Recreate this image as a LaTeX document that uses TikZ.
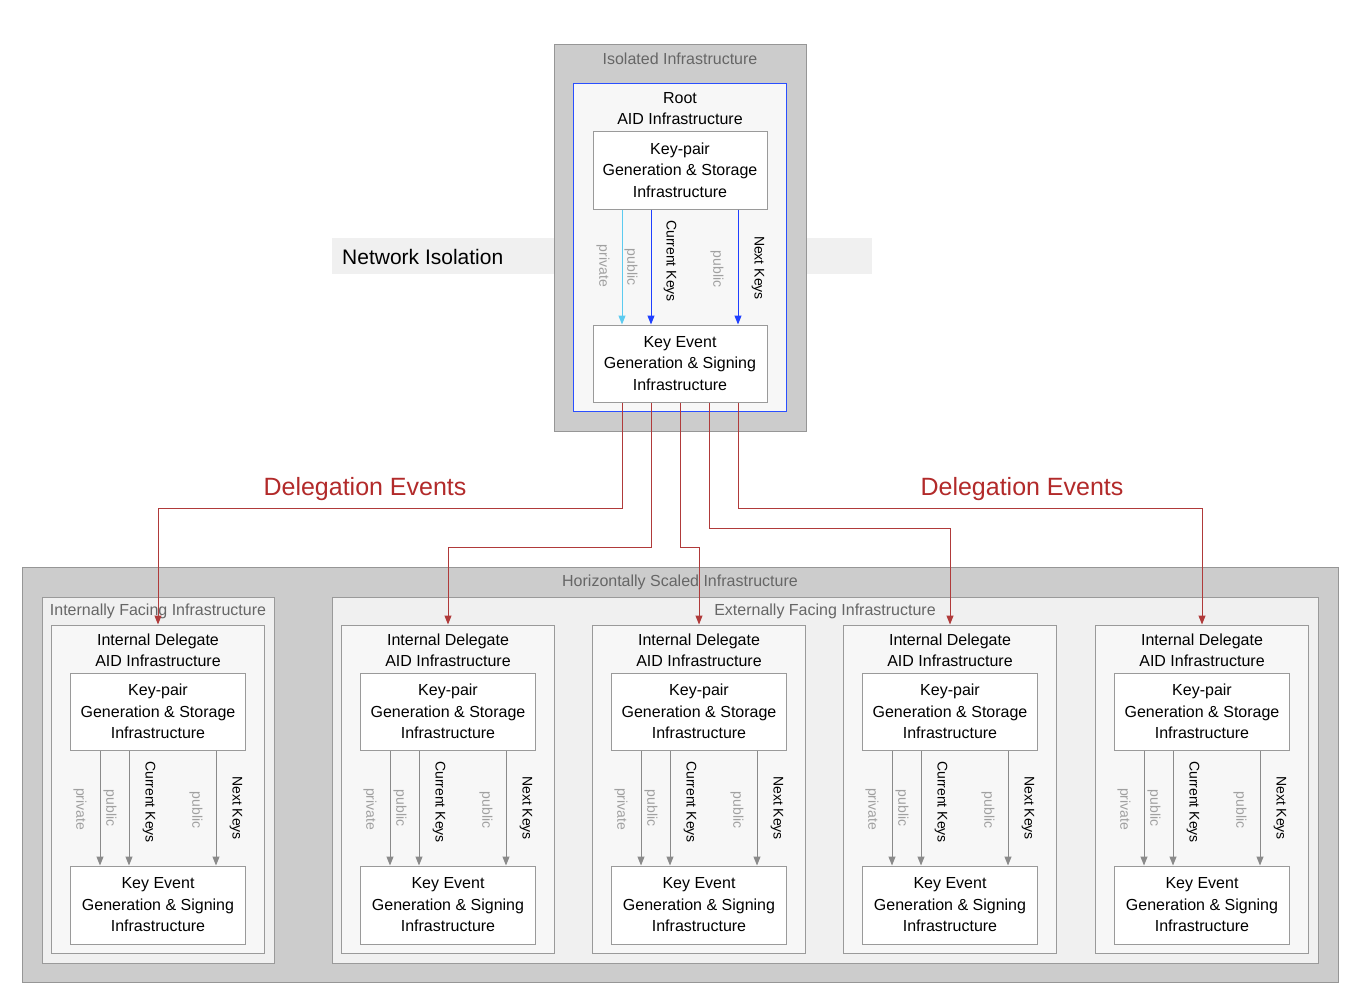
\documentclass[tikz,border=0pt]{standalone}
\usepackage{fontspec}
\setmainfont{Liberation Sans}
\usetikzlibrary{arrows.meta}
\definecolor{outerfill}{HTML}{CCCCCC}
\definecolor{outerdraw}{HTML}{969696}
\definecolor{midfill}{HTML}{F0F0F0}
\definecolor{innerfill}{HTML}{F7F7F7}
\definecolor{boxdraw}{HTML}{9A9A9A}
\definecolor{clustertxt}{HTML}{666666}
\definecolor{lighttxt}{HTML}{A0A0A0}
\definecolor{rootblue}{HTML}{2A4FFF}
\definecolor{keyblue}{HTML}{1F3FFF}
\definecolor{lightblue}{HTML}{5CCBF0}
\definecolor{delred}{HTML}{B22A2A}
\definecolor{linered}{HTML}{B03A3A}
\definecolor{arrowgray}{HTML}{8A8A8A}
\definecolor{bandfill}{HTML}{F0F0F0}
\tikzset{
  nfont/.style={font=\fontsize{16}{21.5}\selectfont},
  grpouter/.style={draw=outerdraw, fill=outerfill, line width=1pt, inner sep=0pt},
  grpmid/.style={draw=boxdraw, fill=midfill, line width=1pt, inner sep=0pt},
  dbox/.style={draw=boxdraw, fill=innerfill, line width=1pt, inner sep=0pt,
    minimum width=213pt, minimum height=328pt},
  kbox/.style={draw=boxdraw, fill=white, line width=1pt, inner sep=0pt, align=center,
    nfont, minimum width=175pt, minimum height=77pt},
  ttl/.style={inner sep=0pt, align=center, nfont},
  gttl/.style={inner sep=0pt, align=center, nfont, text=clustertxt},
  elab/.style={inner sep=0pt, rotate=-90, font=\fontsize{14}{16}\selectfont},
  keyarrow/.style={line width=1pt, -{Triangle[length=9pt,width=7pt]}},
  redarrow/.style={draw=linered, line width=1pt, -{Triangle[length=9pt,width=7pt]}},
  dlab/.style={inner sep=0pt, text=delred, font=\fontsize{25}{30}\selectfont},
}
\begin{document}
\begin{tikzpicture}[x=1pt,y=-1pt]
\useasboundingbox (0,0) rectangle (1370,1004);
% Network isolation band
\node[fill=bandfill, inner sep=0pt, minimum width=540pt, minimum height=36pt] (band) at (602,256) {};
\node[anchor=west, inner sep=0pt, font=\fontsize{21}{25}\selectfont] (bandtxt) at (342,257) {Network Isolation};
% Isolated infrastructure
\node[grpouter, minimum width=252pt, minimum height=387pt] (iso) at (680,237.5) {};
\node[gttl] (isot) at (680,59) {Isolated Infrastructure};
\node[draw=rootblue, fill=innerfill, line width=1pt, inner sep=0pt, minimum width=213pt, minimum height=328pt] (root) at (679.5,247) {};
\node[ttl] (roott) at (680,108.5) {Root\\AID Infrastructure};
\node[kbox, minimum width=174pt, minimum height=78pt] (rkp) at (680,170) {Key-pair\\Generation \& Storage\\Infrastructure};
\node[kbox, minimum width=174pt, minimum height=77pt] (rke) at (680,363.5) {Key Event\\Generation \& Signing\\Infrastructure};
\draw[keyarrow, draw=lightblue] ([xshift=-58pt]rkp.south) -- ([xshift=-58pt]rke.north);
\draw[keyarrow, draw=keyblue] ([xshift=-29pt]rkp.south) -- ([xshift=-29pt]rke.north);
\draw[keyarrow, draw=keyblue] ([xshift=58pt]rkp.south) -- ([xshift=58pt]rke.north);
\node[elab, text=lighttxt] (rpv) at (603,266) {private};
\node[elab, text=lighttxt] (rpb1) at (631,267) {public};
\node[elab] (rck) at (670,261) {Current Keys};
\node[elab, text=lighttxt] (rpb2) at (717,269) {public};
\node[elab] (rnk) at (758,268) {Next Keys};
% Horizontally scaled infrastructure
\node[grpouter, minimum width=1316pt, minimum height=415pt] (hs) at (680,774.5) {};
\node[gttl] (hst) at (680,582) {Horizontally Scaled Infrastructure};
\node[grpmid, minimum width=232pt, minimum height=366pt] (inf) at (158,780) {};
\node[gttl] (inft) at (158,611) {Internally Facing Infrastructure};
\node[grpmid, minimum width=986pt, minimum height=366pt] (exf) at (825,780) {};
\node[gttl] (exft) at (825,611) {Externally Facing Infrastructure};
\foreach \i/\cx in {1/158,2/448,3/699,4/950,5/1202} {
  \node[dbox] (d\i) at (\cx,789) {};
  \node[ttl] (dt\i) at (\cx,650.5) {Internal Delegate\\AID Infrastructure};
  \node[kbox] (kp\i) at (\cx,711.5) {Key-pair\\Generation \& Storage\\Infrastructure};
  \node[kbox, minimum height=78pt] (ke\i) at (\cx,905) {Key Event\\Generation \& Signing\\Infrastructure};
  \draw[keyarrow, draw=arrowgray] ([xshift=-58pt]kp\i.south) -- ([xshift=-58pt]ke\i.north);
  \draw[keyarrow, draw=arrowgray] ([xshift=-29pt]kp\i.south) -- ([xshift=-29pt]ke\i.north);
  \draw[keyarrow, draw=arrowgray] ([xshift=58pt]kp\i.south) -- ([xshift=58pt]ke\i.north);
  \node[elab, text=lighttxt] (pv\i) at (\cx-78,809) {private};
  \node[elab, text=lighttxt] (pba\i) at (\cx-48,808) {public};
  \node[elab] (ck\i) at (\cx-9,802) {Current Keys};
  \node[elab, text=lighttxt] (pbb\i) at (\cx+38,810) {public};
  \node[elab] (nk\i) at (\cx+78,808) {Next Keys};
}
% Delegation events
\draw[redarrow] ([xshift=-58pt]rke.south) -- ++(0,106) -| (d1.north);
\draw[redarrow] ([xshift=-29pt]rke.south) -- ++(0,145) -| (d2.north);
\draw[redarrow] (rke.south) -- ++(0,145) -| (d3.north);
\draw[redarrow] ([xshift=29pt]rke.south) -- ++(0,126) -| (d4.north);
\draw[redarrow] ([xshift=58pt]rke.south) -- ++(0,106) -| (d5.north);
\node[dlab] (dl1) at (365,489) {Delegation Events};
\node[dlab] (dl2) at (1022,489) {Delegation Events};
\end{tikzpicture}
\end{document}
